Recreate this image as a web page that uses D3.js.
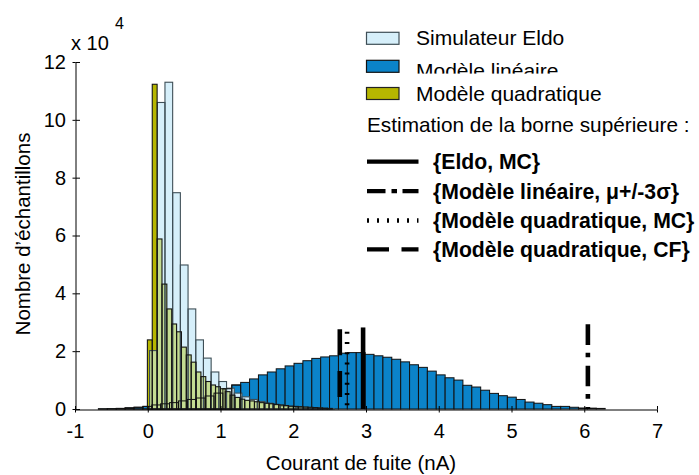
<!DOCTYPE html>
<html>
<head>
<meta charset="utf-8">
<script src="https://cdn.jsdelivr.net/npm/d3@7"></script>
<style>
  body { margin: 0; background: #fff; }
  svg { display: block; }
  text { font-family: "Liberation Sans", Arial, Helvetica, sans-serif; }
</style>
</head>
<body>
<svg id="chart" width="699" height="475"></svg>
<script>
// ---------------- DATA (counts in units of 10^4) ----------------
const xTicks = [-1, 0, 1, 2, 3, 4, 5, 6, 7];
const yTicks = [0, 2, 4, 6, 8, 10, 12];

// Modèle linéaire histogram
const linStart = -0.678, linWidth = 0.1222;
const linCounts = [0.005, 0.01, 0.02, 0.04, 0.06, 0.09, 0.14, 0.18, 0.22, 0.28, 0.33, 0.38, 0.45, 0.55, 0.70, 0.83,
  0.92, 1.04, 1.18, 1.28, 1.39, 1.49, 1.58, 1.67, 1.75, 1.80,
  1.84, 1.93, 1.95, 1.95, 1.89, 1.84, 1.79, 1.72, 1.63, 1.53,
  1.44, 1.31, 1.18, 1.08, 1.00, 0.82, 0.76, 0.65, 0.54, 0.46,
  0.41, 0.33, 0.24, 0.20, 0.15, 0.09, 0.09, 0.06, 0.035, 0.03, 0.02];

// Simulateur Eldo histogram
const eldoStart = 0.025, eldoWidth = 0.1058;
const eldoCounts = [2.02, 10.6, 11.3, 7.48, 4.98, 3.46, 2.39, 1.76, 1.28, 0.95, 0.72, 0.55,
  0.42, 0.33, 0.26, 0.20, 0.15, 0.11, 0.08, 0.06, 0.04, 0.03, 0.02, 0.01];

// Modèle quadratique histogram
const quadStart = -0.005, quadWidth = 0.0669;
const quadCounts = [2.39, 11.23, 5.88, 4.32, 3.46, 2.94, 2.67, 2.14, 1.87, 1.62, 1.28, 1.12, 0.95,
  0.83, 0.77, 0.70, 0.60, 0.48, 0.40, 0.34, 0.30, 0.28, 0.25, 0.22, 0.20, 0.18, 0.16,
  0.14, 0.12, 0.10, 0.09, 0.08, 0.07, 0.06, 0.05, 0.04, 0.03, 0.02];

// Upper bound estimates (x position in nA, height of marker in 10^4)
const boundLabels = ["{Eldo, MC}", "{Modèle linéaire, μ+/-3σ}", "{Modèle quadratique, MC}", "{Modèle quadratique, CF}"];
const boundX = [2.96, 6.05, 2.74, 2.64];
const boundTop = [2.82, 2.93, 2.67, 2.76];

const seriesLabels = ["Simulateur Eldo", "Modèle linéaire", "Modèle quadratique"];

// ---------------- STYLE ----------------
const colEldo = "#d6effa", colLin = "#0b83c9", colQuad = "#b6b600", colMix = "#c4dc92";
const strokeEldo = "#3e4e56";
const plotDash = ["none", "20.7,7.7,4.7,8.3", "2,8.2", "26,15.7"];
const legDash = ["none", "18.5,6,5.5,5.5", "2,8", "22,12.5"];

const svg = d3.select("#chart");
const x = d3.scaleLinear().domain([-1, 7]).range([75, 657]);
const y = d3.scaleLinear().domain([0, 12]).range([409, 62]);

function bins(start, width, counts) {
  return counts.map((c, i) => ({ x0: start + i * width, x1: start + (i + 1) * width, v: c }));
}
const linBins = bins(linStart, linWidth, linCounts);
const eldoBins = bins(eldoStart, eldoWidth, eldoCounts);
const quadBins = bins(quadStart, quadWidth, quadCounts);

// overlap of Eldo and quadratic histograms
const mixBins = [];
quadBins.forEach(q => eldoBins.forEach(e => {
  const a = Math.max(q.x0, e.x0), b = Math.min(q.x1, e.x1);
  if (b > a) mixBins.push({ x0: a, x1: b, v: Math.min(q.v, e.v) });
}));

function drawBars(data, fill, stroke, sw) {
  svg.append("g").selectAll("rect").data(data).join("rect")
    .attr("x", d => x(d.x0))
    .attr("width", d => x(d.x1) - x(d.x0))
    .attr("y", d => y(d.v))
    .attr("height", d => y(0) - y(d.v))
    .attr("fill", fill)
    .attr("stroke", stroke)
    .attr("stroke-width", sw);
}

drawBars(linBins, colLin, "#111", 1);
drawBars(eldoBins, colEldo, "none", 0);
drawBars(quadBins, colQuad, "none", 0);
drawBars(mixBins, colMix, "none", 0);
drawBars(eldoBins, "none", strokeEldo, 1.1);
drawBars(quadBins, "none", "#151515", 1.1);
drawBars(linBins.slice(0, 16), "none", "#111", 1);

// upper-bound markers
svg.append("g").selectAll("line").data(boundX).join("line")
  .attr("x1", d => x(d)).attr("x2", d => x(d))
  .attr("y1", (d, i) => y(boundTop[i]))
  .attr("y2", y(0))
  .attr("stroke", "#000")
  .attr("stroke-width", 4.6)
  .attr("stroke-dasharray", (d, i) => plotDash[i]);

// axes
const gy = svg.append("g").attr("transform", "translate(75.5,0)")
  .call(d3.axisLeft(y).tickValues(yTicks).tickFormat(d3.format("d"))
    .tickSizeInner(-4.5).tickSizeOuter(0).tickPadding(9.5));
gy.selectAll(".tick").append("line").attr("x1", -3).attr("x2", 0).attr("stroke", "#000");
const gx = svg.append("g").attr("transform", "translate(0,409.5)")
  .call(d3.axisBottom(x).tickValues(xTicks).tickFormat(d3.format("d"))
    .tickSizeInner(-3.5).tickSizeOuter(0).tickPadding(14));
gx.selectAll(".tick").append("line").attr("y1", 0).attr("y2", 3).attr("stroke", "#000");
[gx, gy].forEach(g => {
  g.selectAll("text").attr("font-size", 20).attr("fill", "#000")
    .style("font-family", "'Liberation Sans', Arial, sans-serif");
  g.selectAll("path, line").attr("stroke", "#000");
});
gx.selectAll("text").text(d => d < 0 ? "-" + Math.abs(d) : d);

// multiplier
svg.append("text").attr("x", 71).attr("y", 49.5).attr("font-size", 20).text("x 10");
svg.append("text").attr("x", 115).attr("y", 29).attr("font-size", 16).text("4");

// axis titles
svg.append("text").attr("x", 361).attr("y", 470).attr("text-anchor", "middle")
  .attr("font-size", 20.5).text("Courant de fuite (nA)");
svg.append("text").attr("transform", "translate(30,234) rotate(-90)")
  .attr("text-anchor", "middle").attr("font-size", 20.5).text("Nombre d’échantillons");

// legend: histograms
const legRows = [38.3, 66.3, 93.5];
const legCols = [colEldo, colLin, colQuad];
const legStroke = [strokeEldo, "#111", "#222"];
const legText = [45, 77.5, 101];
seriesLabels.forEach((s, i) => {
  svg.append("rect").attr("x", 366.5).attr("y", legRows[i] - 6).attr("width", 32.5).attr("height", 12)
    .attr("fill", legCols[i]).attr("stroke", legStroke[i]).attr("stroke-width", 1.2);
  svg.append("text").attr("x", 416).attr("y", legText[i]).attr("font-size", 21).text(s);
  if (i === 1) {
    svg.append("rect").attr("x", 410).attr("y", 73.6).attr("width", 160).attr("height", 6).attr("fill", "#fff");
  }
});
svg.append("text").attr("x", 367).attr("y", 132).attr("font-size", 20.8)
  .text("Estimation de la borne supérieure :");

// legend: bounds
const boundRows = [161.7, 191.2, 220.5, 249.3];
boundLabels.forEach((s, i) => {
  svg.append("line").attr("x1", 367).attr("x2", 418.5)
    .attr("y1", boundRows[i]).attr("y2", boundRows[i])
    .attr("stroke", "#000").attr("stroke-width", 4.3)
    .attr("stroke-dasharray", legDash[i]);
  svg.append("text").attr("x", 433).attr("y", boundRows[i] + 7.5)
    .attr("font-size", 21.2).attr("font-weight", "bold").text(s);
});
</script>
</body>
</html>
